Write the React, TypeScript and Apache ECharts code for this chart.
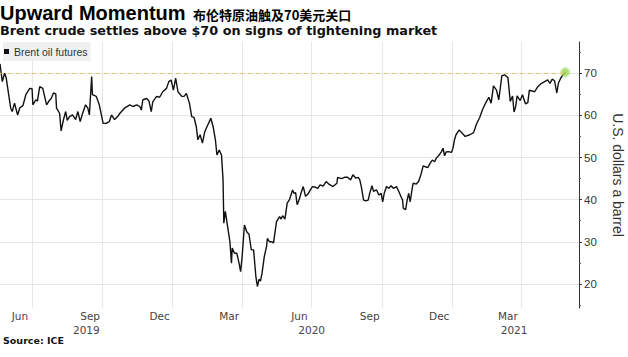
import React, { useEffect, useRef } from "react";
import * as echarts from "echarts";

const dates = [
  "2019-05-20","2019-05-23","2019-05-26","2019-05-28","2019-06-03","2019-06-05","2019-06-08","2019-06-12","2019-06-15","2019-06-19",
  "2019-06-23","2019-06-28","2019-07-01","2019-07-02","2019-07-06","2019-07-08","2019-07-11","2019-07-15","2019-07-20","2019-07-23",
  "2019-07-26","2019-07-29","2019-08-01","2019-08-02","2019-08-06","2019-08-08","2019-08-11","2019-08-14","2019-08-16","2019-08-19",
  "2019-08-23","2019-08-27","2019-08-30","2019-09-02","2019-09-05","2019-09-09","2019-09-12","2019-09-14","2019-09-17","2019-09-18",
  "2019-09-23","2019-09-27","2019-10-02","2019-10-06","2019-10-10","2019-10-13","2019-10-17","2019-10-21","2019-10-24","2019-10-30",
  "2019-11-06","2019-11-10","2019-11-15","2019-11-19","2019-11-21","2019-11-23","2019-11-28","2019-12-01","2019-12-04","2019-12-06",
  "2019-12-11","2019-12-15","2019-12-19","2019-12-24","2019-12-27","2019-12-30","2020-01-02","2020-01-05","2020-01-08","2020-01-13",
  "2020-01-16","2020-01-19","2020-01-23","2020-01-26","2020-01-29","2020-02-01","2020-02-03","2020-02-06","2020-02-09","2020-02-12",
  "2020-02-16","2020-02-20","2020-02-23","2020-02-26","2020-02-28","2020-03-02","2020-03-05","2020-03-07","2020-03-08","2020-03-10",
  "2020-03-13","2020-03-16","2020-03-18","2020-03-19","2020-03-22","2020-03-25","2020-03-28","2020-03-30","2020-04-01","2020-04-04",
  "2020-04-07","2020-04-10","2020-04-13","2020-04-16","2020-04-19","2020-04-21","2020-04-23","2020-04-25","2020-04-27","2020-04-30",
  "2020-05-03","2020-05-04","2020-05-07","2020-05-10","2020-05-12","2020-05-16","2020-05-20","2020-05-22","2020-05-24","2020-05-27",
  "2020-05-30","2020-06-02","2020-06-06","2020-06-08","2020-06-10","2020-06-12","2020-06-15","2020-06-17","2020-06-20","2020-06-23",
  "2020-06-26","2020-07-02","2020-07-05","2020-07-09","2020-07-12","2020-07-16","2020-07-20","2020-07-24","2020-07-29","2020-08-03",
  "2020-08-04","2020-08-09","2020-08-13","2020-08-17","2020-08-21","2020-08-24","2020-08-28","2020-08-31","2020-09-02","2020-09-04",
  "2020-09-07","2020-09-10","2020-09-13","2020-09-15","2020-09-18","2020-09-20","2020-09-24","2020-09-27","2020-09-30","2020-10-02",
  "2020-10-04","2020-10-07","2020-10-10","2020-10-13","2020-10-16","2020-10-20","2020-10-23","2020-10-26","2020-10-28","2020-10-29",
  "2020-11-01","2020-11-03","2020-11-05","2020-11-07","2020-11-10","2020-11-11","2020-11-15","2020-11-18","2020-11-21","2020-11-24",
  "2020-11-27","2020-11-30","2020-12-03","2020-12-06","2020-12-09","2020-12-11","2020-12-15","2020-12-18","2020-12-20","2020-12-22",
  "2020-12-24","2020-12-27","2020-12-31","2021-01-02","2021-01-04","2021-01-06","2021-01-10","2021-01-13","2021-01-18","2021-01-24",
  "2021-01-29","2021-02-02","2021-02-06","2021-02-10","2021-02-14","2021-02-18","2021-02-21","2021-02-24","2021-02-28","2021-03-03",
  "2021-03-07","2021-03-11","2021-03-15","2021-03-18","2021-03-21","2021-03-23","2021-03-25","2021-03-27","2021-03-31","2021-04-03",
  "2021-04-07","2021-04-10","2021-04-12","2021-04-19","2021-04-23","2021-04-28","2021-05-02","2021-05-06","2021-05-09","2021-05-12",
  "2021-05-15","2021-05-18","2021-05-20","2021-05-23","2021-05-26","2021-05-29"
];

const prices = [
  72.2,68.0,70.0,69.0,61.7,60.9,62.9,60.1,61.8,62.3,
  65.0,66.4,66.3,62.5,63.7,63.4,66.8,66.4,62.5,63.4,
  64.0,65.3,65.1,61.7,60.5,56.3,58.9,60.9,58.8,59.7,
  60.1,59.0,60.9,58.5,60.4,62.5,61.7,60.1,69.2,64.9,
  64.5,62.5,58.1,58.1,58.5,60.1,59.0,59.7,60.5,61.7,
  62.5,62.1,62.5,62.1,61.3,63.7,64.0,63.4,60.9,63.2,
  64.5,64.3,65.6,66.4,68.0,68.4,66.0,68.8,65.6,64.5,
  64.5,65.2,62.9,59.7,59.5,57.3,54.2,55.4,53.4,56.1,
  57.7,59.3,57.3,54.2,50.6,51.8,50.6,44.7,34.4,37.2,
  33.6,30.0,24.9,28.5,27.3,27.3,24.9,22.9,26.5,34.0,
  32.4,31.8,28.1,28.1,21.7,19.4,21.1,20.7,22.5,26.5,
  28.9,30.8,30.0,30.0,29.7,34.8,36.0,35.4,36.2,35.4,
  39.2,40.0,42.3,41.5,41.7,38.8,40.2,41.5,43.1,40.8,
  41.3,43.1,43.0,42.7,43.5,43.2,44.3,43.6,43.1,43.9,
  45.3,45.0,45.3,45.3,44.7,45.9,45.1,45.3,44.7,43.1,
  39.9,39.7,39.9,41.5,43.3,42.0,42.3,41.1,41.5,39.5,
  41.5,43.1,42.7,43.3,42.7,43.1,42.0,40.7,39.9,38.0,
  37.6,39.9,41.5,39.5,43.1,43.9,43.7,44.3,45.9,48.0,
  47.8,47.6,48.6,49.4,49.0,49.8,50.6,51.4,52.2,50.4,
  51.3,51.4,51.2,52.2,54.2,55.4,56.5,56.0,55.0,55.4,
  55.9,58.0,59.5,61.5,63.0,64.3,62.9,67.0,66.0,63.7,
  69.4,69.6,68.9,63.3,64.6,60.8,62.0,64.6,63.5,64.9,
  62.7,63.0,66.0,65.6,66.8,67.6,68.0,68.4,67.6,68.6,
  68.2,65.3,67.6,68.8,69.6,70.2
];

const xMin = "2019-05-20";
const xMax = "2021-06-16";
const monthLabelDates = ["2019-06-15","2019-09-15","2019-12-15","2020-03-15","2020-06-15","2020-09-15","2020-12-15","2021-03-15"];
const monthLabels = ["Jun","Sep","Dec","Mar","Jun","Sep","Dec","Mar"];
const yearLabelDates = ["2019-09-10","2020-07-01","2021-03-23"];
const yearLabels = ["2019","2020","2021"];
const gridDates = ["2019-07-01","2019-10-01","2020-01-01","2020-04-01","2020-07-01","2020-10-01","2021-01-01","2021-04-01"];
const yMin = 14.3;
const yMax = 77.4;
const yTicks = [20, 30, 40, 50, 60, 70];
const yMinorTicks = [15, 25, 35, 45, 55, 65, 75];
const refLevel = 70;

function ts(s: string): number {
  const [y, m, d] = s.split("-").map(Number);
  return new Date(y, m - 1, d).getTime();
}

function pick(list: number[], labels: string[], v: number): string {
  const i = list.findIndex((t) => Math.abs(t - v) < 86400000 * 1.5);
  return i >= 0 ? labels[i] : "";
}

export default function App() {
  const ref = useRef<HTMLDivElement>(null);
  useEffect(() => {
    if (!ref.current) return;
    const chart = echarts.init(ref.current, null, { renderer: "svg" });
    const monthTs = monthLabelDates.map(ts);
    const yearTs = yearLabelDates.map(ts);
    const gridTs = gridDates.map(ts);
    const data = dates.map((d, i) => [ts(d), prices[i]]);
    const last = data[data.length - 1];
    const option: any = {
      animation: false,
      textStyle: { fontFamily: "Liberation Sans" },
      title: [
        { text: "Upward Momentum", left: 0, top: 3, padding: 0,
          textStyle: { fontSize: 20, fontWeight: "bold", color: "#000", fontFamily: "Liberation Sans" } },
        { text: "布伦特原油触及70美元关口", left: 193, top: 8, padding: 0,
          textStyle: { fontSize: 13, fontWeight: "bold", color: "#000", fontFamily: "Noto Sans CJK SC" } },
        { text: "Brent crude settles above $70 on signs of tightening market", left: 0, top: 24, padding: 0,
          textStyle: { fontSize: 12.8, fontWeight: "bold", color: "#111", fontFamily: "DejaVu Sans" } },
        { text: "Source: ICE", left: 3, top: 335, padding: 0,
          textStyle: { fontSize: 9.5, fontWeight: "bold", color: "#111", fontFamily: "DejaVu Sans" } },
      ],
      legend: {
        data: [{ name: "Brent oil futures", icon: "rect" }],
        left: 3, top: 42, padding: [4, 3, 4, 1],
        backgroundColor: "#f0f0f0",
        itemWidth: 5, itemHeight: 5,
        textStyle: { fontSize: 10.5, color: "#333", fontFamily: "Liberation Sans" },
        selectedMode: false,
      },
      grid: { left: 0, right: 49, top: 42, bottom: 49, containLabel: false, outerBoundsMode: "none" },
      xAxis: [
        {
          type: "value", min: ts(xMin), max: ts(xMax),
          axisLine: { show: false },
          axisTick: { show: false, customValues: gridTs },
          splitLine: { show: true, lineStyle: { color: "#e6e6e6", width: 1 } },
          axisLabel: {
            customValues: monthTs, margin: 2,
            formatter: (v: number) => pick(monthTs, monthLabels, v),
            fontSize: 10.5, color: "#444", fontFamily: "DejaVu Sans",
          },
        },
        {
          type: "value", min: ts(xMin), max: ts(xMax), position: "bottom",
          axisLine: { show: false }, axisTick: { show: false }, splitLine: { show: false },
          axisLabel: {
            customValues: yearTs, margin: 16,
            formatter: (v: number) => pick(yearTs, yearLabels, v),
            fontSize: 10.5, color: "#444", fontFamily: "DejaVu Sans",
          },
        },
      ],
      yAxis: [
        {
          type: "value", min: yMin, max: yMax, position: "right",
          name: "U.S. dollars a barrel", nameLocation: "middle", nameRotate: -90, nameGap: 32,
          nameTextStyle: { fontSize: 14, color: "#333", fontFamily: "Liberation Sans" },
          axisLine: { show: true, lineStyle: { color: "#333", width: 1 } },
          axisTick: { show: true, customValues: yTicks, length: 3, lineStyle: { color: "#333" } },
          axisLabel: { customValues: yTicks, margin: 5, fontSize: 11.5, color: "#333", fontFamily: "Liberation Sans" },
          splitLine: { show: true, lineStyle: { color: "#e6e6e6", width: 1 } },
        },
        {
          type: "value", min: yMin, max: yMax, position: "right",
          axisLine: { show: false },
          axisTick: { show: true, customValues: yMinorTicks, length: 2, lineStyle: { color: "#555" } },
          axisLabel: { show: false },
          splitLine: { show: false },
        },
      ],
      series: [
        {
          name: "Brent oil futures", type: "line", data, showSymbol: false, symbol: "none",
          xAxisIndex: 0, yAxisIndex: 0, z: 3,
          itemStyle: { color: "#111" },
          lineStyle: { color: "#111", width: 1.4 },
          markLine: {
            silent: true, symbol: "none", label: { show: false },
            lineStyle: { color: "#f0b847", type: [4, 4], width: 1, opacity: 0.8 },
            data: [[{ coord: [ts(xMin), refLevel] }, { coord: [last[0], refLevel] }]],
          },
        },
        {
          name: "latest", type: "scatter", data: [last], symbolSize: 8, z: 4,
          itemStyle: { color: "#a2d75a", borderColor: "rgba(170,220,100,0.45)", borderWidth: 3 },
        },
      ],
    };
    chart.setOption(option);
    return () => chart.dispose();
  }, []);
  return <div ref={ref} style={{ position: "absolute", left: 0, top: 0, width: 628, height: 357 }} />;
}
